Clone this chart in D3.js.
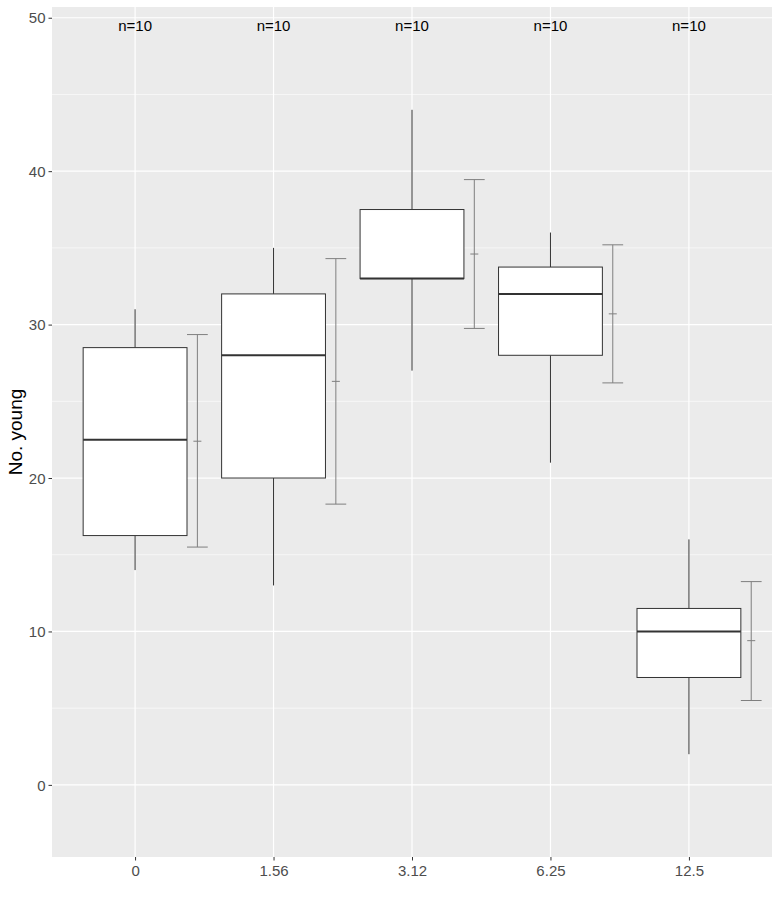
<!DOCTYPE html>
<html>
<head>
<meta charset="utf-8">
<script src="https://cdn.jsdelivr.net/npm/d3@7"></script>
<style>
  body { margin: 0; background: #fff; }
  text { font-family: "Liberation Sans", Arial, sans-serif; }
</style>
</head>
<body>
<script>
//data
let doses = ["0", "1.56", "3.12", "6.25", "12.5"];
let whiskerLow = [14, 13, 27, 21, 2];
let q1 = [16.25, 20, 33, 28, 7];
let medians = [22.5, 28, 33, 32, 10];
let q3 = [28.5, 32, 37.5, 33.75, 11.5];
let whiskerHigh = [31, 35, 44, 36, 16];
let means = [22.4, 26.3, 34.6, 30.7, 9.4];
let errLow = [15.5, 18.3, 29.75, 26.2, 5.5];
let errHigh = [29.35, 34.3, 39.45, 35.2, 13.25];
let counts = [10, 10, 10, 10, 10];
let yTicks = [0, 10, 20, 30, 40, 50];
let yMinor = [5, 15, 25, 35, 45];

let margin = { top: 7, right: 8, bottom: 52, left: 52 };
let width = 780 - margin.left - margin.right;
let height = 910 - margin.top - margin.bottom - 1;

let svg = d3.select("body").append("svg")
  .attr("width", 780)
  .attr("height", 910);

let g = svg.append("g")
  .attr("transform", "translate(" + margin.left + "," + margin.top + ")");

//scales
let unit = width / 5.2;
let xPos = d3.scalePoint().domain(doses).range([0.6 * unit, width - 0.6 * unit]);
let y = d3.scaleLinear().domain([-4.7, 50.7]).range([height, 0]);

//panel
g.append("rect")
  .attr("width", width)
  .attr("height", height)
  .attr("fill", "#ebebeb");

g.selectAll(".minor").data(yMinor).enter().append("line")
  .attr("x1", 0).attr("x2", width)
  .attr("y1", d => y(d)).attr("y2", d => y(d))
  .attr("stroke", "#fff").attr("stroke-width", 0.6);

g.selectAll(".major").data(yTicks).enter().append("line")
  .attr("x1", 0).attr("x2", width)
  .attr("y1", d => y(d)).attr("y2", d => y(d))
  .attr("stroke", "#fff").attr("stroke-width", 1.2);

g.selectAll(".xgrid").data(doses).enter().append("line")
  .attr("x1", d => xPos(d)).attr("x2", d => xPos(d))
  .attr("y1", 0).attr("y2", height)
  .attr("stroke", "#fff").attr("stroke-width", 1.2);

//axes
let yAxis = d3.axisLeft(y).tickValues(yTicks).tickSize(3.5).tickPadding(3);
let xAxis = d3.axisBottom(xPos).tickSize(3.5).tickPadding(5);

let ya = g.append("g").call(yAxis);
let xa = g.append("g").attr("transform", "translate(0," + height + ")").call(xAxis);
[ya, xa].forEach(a => {
  a.select(".domain").remove();
  a.selectAll(".tick line").attr("stroke", "#333").attr("stroke-width", 1);
  a.selectAll(".tick text")
    .attr("fill", "#4d4d4d")
    .style("font-size", "15px")
    .style("font-family", "'Liberation Sans', Arial, sans-serif");
});
ya.selectAll(".tick text").attr("dy", "0.35em");

svg.append("text")
  .attr("transform", "rotate(-90)")
  .attr("x", -(margin.top + height / 2))
  .attr("y", 22)
  .attr("text-anchor", "middle")
  .style("font-size", "19px")
  .attr("fill", "#000")
  .text("No. young");

//boxes
let boxW = 0.75 * unit;
let errOff = 0.45 * unit;
let capW = 0.15 * unit;

let box = g.selectAll(".box").data(doses).enter().append("g")
  .attr("transform", d => "translate(" + xPos(d) + ",0)");

box.append("line")
  .attr("x1", 0).attr("x2", 0)
  .attr("y1", (d, i) => y(whiskerHigh[i])).attr("y2", (d, i) => y(q3[i]))
  .attr("stroke", "#333").attr("stroke-width", 1);

box.append("line")
  .attr("x1", 0).attr("x2", 0)
  .attr("y1", (d, i) => y(q1[i])).attr("y2", (d, i) => y(whiskerLow[i]))
  .attr("stroke", "#333").attr("stroke-width", 1);

box.append("rect")
  .attr("x", -boxW / 2)
  .attr("width", boxW)
  .attr("y", (d, i) => y(q3[i]))
  .attr("height", (d, i) => y(q1[i]) - y(q3[i]))
  .attr("fill", "#fff")
  .attr("stroke", "#333")
  .attr("stroke-width", 1);

box.append("line")
  .attr("x1", -boxW / 2).attr("x2", boxW / 2)
  .attr("y1", (d, i) => y(medians[i])).attr("y2", (d, i) => y(medians[i]))
  .attr("stroke", "#333").attr("stroke-width", 2);

//mean +- error bars
let err = box.append("g").attr("transform", "translate(" + errOff + ",0)")
  .attr("stroke", "#7f7f7f").attr("stroke-width", 1);

err.append("line")
  .attr("x1", 0).attr("x2", 0)
  .attr("y1", (d, i) => y(errHigh[i])).attr("y2", (d, i) => y(errLow[i]));
err.append("line")
  .attr("x1", -capW / 2).attr("x2", capW / 2)
  .attr("y1", (d, i) => y(errHigh[i])).attr("y2", (d, i) => y(errHigh[i]));
err.append("line")
  .attr("x1", -capW / 2).attr("x2", capW / 2)
  .attr("y1", (d, i) => y(errLow[i])).attr("y2", (d, i) => y(errLow[i]));
err.append("line")
  .attr("x1", -4).attr("x2", 4)
  .attr("y1", (d, i) => y(means[i])).attr("y2", (d, i) => y(means[i]));

//n labels
box.append("text")
  .attr("x", 0)
  .attr("y", y(49.5))
  .attr("dy", "0.35em")
  .attr("text-anchor", "middle")
  .style("font-size", "15px")
  .attr("fill", "#000")
  .text((d, i) => "n=" + counts[i]);
</script>
</body>
</html>
